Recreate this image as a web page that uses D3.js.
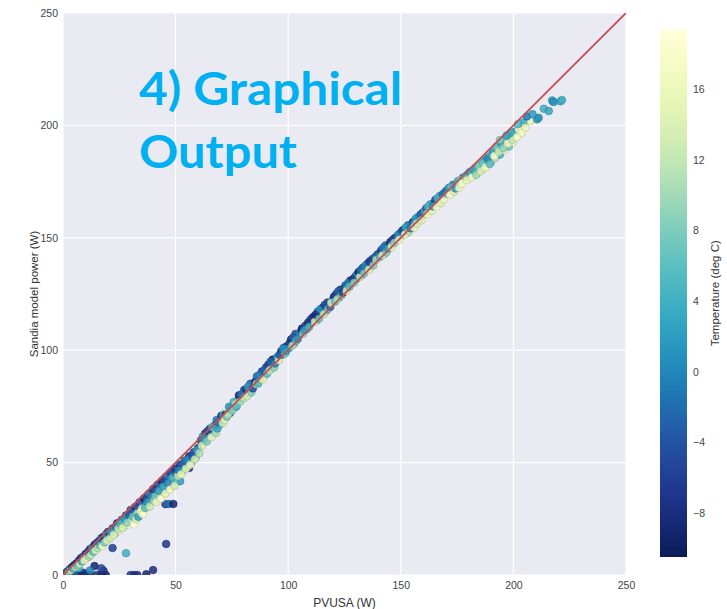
<!DOCTYPE html>
<html>
<head>
<meta charset="utf-8">
<script src="https://cdn.jsdelivr.net/npm/d3@7"></script>
<style>
  body { margin: 0; background: #fff; }
  svg { display: block; }
</style>
</head>
<body>
<div class="canvas"></div>
<script>
// margins and dimensions
const w = 727;
const h = 609;
const plot = { left: 63, right: 626, top: 13, bottom: 575 };
const bar = { left: 660, right: 687, top: 29.5, bottom: 557 };

// scatter data: PVUSA power (W), Sandia model power (W), temperature (deg C)
// rows of 10 are lined up across the three arrays
const pvusa = [
  1, 2, 4, 6, 8, 10, 12, 15, 17, 19,
  30, 31.5, 33, 37, 40, 18, 28, 45.5, 47, 49,
  45.8, 52, 56, 14, 22, 9, 12, 17, 5, 7,
  0.5, 1, 1.5, 2, 2.5, 3, 3.5, 4, 4.5, 5,
  5.5, 6, 6.5, 7, 7.5, 8, 8.5, 9, 9.5, 10,
  10.5, 11, 11.5, 12, 12.5, 13, 13.5, 14, 14.5, 15,
  15.5, 16, 16.5, 17, 17.5, 18, 18.5, 19, 19.5, 20,
  21, 22, 23, 24, 25, 26, 27, 28, 29, 30,
  21.5, 22.5, 23.5, 24.5, 25.5, 26.5, 27.5, 28.5, 29.5, 30.5,
  31, 32, 33, 34, 35, 36, 37, 38, 39, 40,
  31.5, 32.5, 33.5, 34.5, 35.5, 36.5, 37.5, 38.5, 39.5, 40.5,
  41, 42, 43, 44, 45, 46, 47, 48, 49, 50,
  41.5, 42.5, 43.5, 44.5, 45.5, 46.5, 47.5, 48.5, 49.5, 50.5,
  51, 52, 53, 54, 55, 56, 57, 58, 59, 60,
  51.5, 52.5, 53.5, 54.5, 55.5, 56.5, 57.5, 58.5, 59.5, 60.5,
  61.2, 62.6, 63.1, 64.8, 65.3, 66.9, 67.4, 68.2, 69.7, 70.3,
  61.7, 62.1, 63.8, 64.2, 65.9, 66.3, 67.9, 68.6, 69.1, 70.9,
  71.4, 72.2, 73.7, 74.1, 75.8, 76.3, 77.6, 78.1, 79.9, 80.4,
  71.9, 72.8, 73.3, 74.6, 75.2, 76.8, 77.1, 78.7, 79.3, 80.8,
  81.3, 82.7, 83.2, 84.9, 85.4, 86.1, 87.6, 88.3, 89.8, 90.2,
  81.8, 82.1, 83.7, 84.3, 85.9, 86.7, 87.2, 88.8, 89.3, 90.7,
  91.2, 92.6, 93.1, 94.8, 95.3, 96.9, 97.4, 98.2, 99.7, 100.3,
  91.7, 92.2, 93.8, 94.2, 95.8, 96.2, 97.8, 98.7, 99.1, 100.8,
  101.3, 102.7, 103.2, 104.9, 105.4, 106.1, 107.6, 108.3, 109.8, 110.2,
  101.8, 102.2, 103.7, 104.3, 105.9, 106.6, 107.2, 108.8, 109.3, 110.7,
  111.3, 112.6, 113.1, 114.8, 115.3, 116.9, 117.4, 118.2, 119.7, 120.3,
  111.8, 112.2, 113.7, 114.2, 115.8, 116.2, 117.8, 118.7, 119.1, 120.8,
  121.3, 122.7, 123.2, 124.9, 125.4, 126.1, 127.6, 128.3, 129.8, 130.2,
  121.8, 122.2, 123.7, 124.3, 125.9, 126.6, 127.2, 128.8, 129.3, 130.7,
  131.3, 132.6, 133.1, 134.8, 135.3, 136.9, 137.4, 138.2, 139.7, 140.3,
  131.8, 132.2, 133.7, 134.2, 135.8, 136.2, 137.8, 138.7, 139.1, 140.8,
  141.3, 142.7, 143.2, 144.9, 145.4, 146.1, 147.6, 148.3, 149.8, 150.2,
  141.8, 142.2, 143.7, 144.3, 145.9, 146.6, 147.2, 148.8, 149.3, 150.7,
  151.3, 152.7, 153.2, 154.9, 155.4, 156.1, 157.6, 158.3, 159.8, 160.2,
  151.8, 152.2, 153.7, 154.3, 155.9, 156.6, 157.2, 158.8, 159.3, 160.7,
  161.3, 162.6, 163.1, 164.8, 165.3, 166.9, 167.4, 168.2, 169.7, 170.3,
  161.8, 162.2, 163.7, 164.2, 165.8, 166.2, 167.8, 168.7, 169.1, 170.8,
  171.3, 172.7, 173.2, 174.9, 175.4, 176.1, 177.6, 178.3, 179.8, 180.2,
  171.8, 172.2, 173.7, 174.3, 175.9, 176.6, 177.2, 178.8, 179.3, 180.7,
  181, 182, 183, 184, 185, 186, 187, 188, 189, 190,
  181.5, 182.5, 183.5, 184.5, 185.5, 186.5, 187.5, 188.5, 189.5, 190.5,
  191, 192, 193, 194, 195, 196, 197, 198, 199, 200,
  191.5, 192.5, 193.5, 194.5, 195.5, 196.5, 197.5, 198.5, 199.5, 200.5,
  202.4, 204.6, 205.3, 207.6, 210.5, 211.2, 213.5, 215.7, 217.2, 220.9,
  217.8, 221.6, 202, 203.5, 206, 208.5, 199, 197, 194, 201.5
];

const sandia = [
  0, 0, 0, 0, 0, 0, 0, 0, 0, 0,
  0, 0, 0, 0.3, 2.2, 1.9, 9.7, 31.5, 31.6, 31.6,
  13.8, 41.7, 47.6, 4, 12, 1, 2, 3, 0.5, 3,
  0.3, 0.8, 1.0, 1.6, 1.5, 2.6, 2.2, 3.5, 2.9, 4.4,
  3.6, 5.2, 4.3, 6.4, 5.1, 7.5, 6.0, 8.2, 6.6, 9.3,
  7.4, 10.2, 8.1, 11.5, 9.0, 12.2, 10.3, 13.4, 11.0, 14.3,
  12.0, 15.1, 13.2, 16.4, 12.8, 17.0, 14.5, 18.1, 15.3, 19.2,
  16.5, 20.8, 18.3, 23.0, 19.8, 24.6, 21.5, 26.5, 22.4, 28.9,
  19.0, 17.8, 21.7, 20.6, 22.8, 21.0, 25.2, 23.3, 26.8, 24.4,
  26.0, 30.2, 27.5, 32.3, 29.6, 34.1, 30.8, 36.0, 32.8, 38.2,
  22.5, 24.8, 25.9, 28.2, 27.0, 29.8, 32.5, 30.4, 34.9, 33.0,
  35.0, 40.1, 36.8, 41.9, 38.3, 43.8, 40.2, 45.6, 41.8, 47.3,
  32.4, 37.5, 34.0, 39.3, 36.2, 41.0, 38.0, 43.3, 39.6, 45.0,
  44.0, 49.0, 46.2, 50.9, 47.8, 52.8, 50.0, 54.6, 52.2, 56.5,
  46.6, 44.8, 49.4, 47.2, 51.3, 49.0, 53.0, 51.4, 55.5, 54.2,
  59.8, 60.1, 62.9, 61.0, 65.2, 63.4, 66.5, 68.9, 67.0, 70.8,
  57.5, 61.6, 59.4, 64.0, 61.3, 65.8, 63.1, 65.2, 67.9, 67.5,
  71.5, 71.2, 74.8, 72.0, 76.9, 74.6, 77.8, 79.9, 78.7, 82.3,
  69.1, 70.4, 71.6, 74.0, 73.2, 75.9, 75.0, 77.2, 80.4, 78.9,
  82.6, 80.8, 85.1, 84.5, 86.0, 88.4, 87.2, 90.5, 89.1, 92.4,
  79.5, 83.7, 81.3, 83.0, 84.9, 85.2, 89.0, 86.9, 91.0, 89.6,
  93.6, 91.9, 95.8, 96.4, 97.2, 99.5, 97.9, 101.2, 102.0, 100.9,
  91.0, 94.9, 92.3, 94.1, 95.5, 97.9, 100.7, 98.6, 99.6, 103.4,
  104.8, 103.1, 107.2, 106.9, 108.1, 109.6, 110.9, 109.3, 113.5, 112.0,
  102.0, 105.6, 104.4, 105.1, 108.6, 107.3, 108.9, 112.2, 110.4, 114.4,
  114.9, 113.2, 117.1, 116.8, 118.9, 117.6, 121.2, 120.7, 122.4, 123.8,
  112.6, 115.8, 114.0, 118.2, 116.0, 120.1, 118.4, 119.3, 121.0, 121.6,
  125.0, 123.4, 126.9, 127.5, 128.8, 127.6, 131.0, 130.3, 132.9, 131.6,
  122.6, 126.2, 124.4, 125.6, 126.3, 129.9, 128.2, 131.6, 130.0, 133.9,
  134.8, 133.3, 136.6, 136.9, 138.6, 137.5, 140.6, 139.8, 142.6, 142.9,
  132.6, 135.6, 134.2, 137.6, 135.8, 139.5, 137.7, 141.5, 140.2, 141.6,
  144.4, 142.8, 146.6, 146.9, 148.2, 147.0, 150.1, 149.6, 152.2, 151.0,
  142.3, 145.5, 143.6, 145.2, 145.8, 149.3, 147.8, 151.3, 149.1, 153.2,
  153.6, 152.1, 155.6, 156.1, 157.0, 156.2, 159.2, 158.4, 161.2, 160.4,
  151.4, 154.6, 152.8, 154.2, 154.6, 158.5, 156.3, 160.4, 157.8, 162.0,
  163.1, 161.8, 164.9, 165.3, 166.8, 165.4, 168.7, 167.9, 170.3, 171.0,
  160.4, 163.9, 162.0, 164.0, 163.8, 167.6, 165.4, 169.4, 167.1, 169.5,
  172.2, 170.1, 173.6, 174.0, 175.3, 173.6, 176.8, 176.4, 178.4, 177.1,
  169.2, 172.4, 170.6, 171.9, 172.2, 175.8, 174.1, 177.5, 175.6, 179.2,
  179.5, 177.4, 181.0, 179.0, 182.6, 180.4, 184.3, 182.0, 186.0, 183.6,
  176.8, 180.2, 178.0, 181.8, 179.6, 183.3, 181.2, 185.1, 182.8, 186.9,
  188.2, 185.5, 189.8, 187.0, 191.5, 189.0, 193.2, 190.6, 195.0, 192.6,
  186.4, 190.6, 188.3, 192.3, 190.0, 194.0, 192.0, 196.0, 193.6, 197.2,
  198.2, 201.2, 199.0, 202.0, 202.7, 203.4, 207.4, 206.4, 211.1, 210.7,
  210.4, 211.3, 200.5, 196.5, 204.0, 205.0, 196.8, 195.5, 193.5, 194.8
];

const tempC = [
  -10.5, -8, -9.5, -7, -8, -6, -9, -7, -8, -9,
  -6, -7, -8, -9, -8, -8, 4, -6, -2, -9,
  -7, 2, -8, -9, -6, -8, 0, -5, -3, 4,
  -9, -6, 3, -8, 10, -4, 14, -7, 6, -9,
  12, -8, 8, -5, 15, -9, 4, -3, 17, -7,
  16, -6, 9, -8, 13, 2, 6, -9, 15, -4,
  11, -7, 5, -2, 17, -9, 8, 1, 14, -6,
  13, -4, 7, -8, 16, 0, 10, -9, 18, -5,
  3, 15, -1, 12, 5, 14, 2, 9, -3, 11,
  6, -7, 9, -5, 12, -9, 4, -3, 15, -8,
  19.4, 14, 2, 16, 18, 6, 1, 13, 0, 10,
  7, -6, 11, -9, 5, -4, 14, -7, 8, -8,
  16, 2, 18, 3, 15, 0, 17, 4, 13, -1,
  12, -7, 6, -3, 10, -8, 4, -5, 9, -6,
  0, 16, -2, 14, 1, 17, -4, 13, 2, 11,
  -6, 3, -8, 5, -4, 2, -9, -1, 4, -7,
  14, 1, 8, -5, 16, 6, 11, 3, -2, 13,
  5, -8, 2, -3, 4, -6, 6, -9, 1, -4,
  15, 7, 12, 3, 9, 16, 5, 10, -1, 14,
  -7, 6, -3, 1, -8, -2, 4, -6, 3, -5,
  13, 2, 9, -4, 12, 5, 0, 15, -3, 7,
  -6, 7, -9, -2, 3, -8, 5, -4, -7, 4,
  12, -3, 9, 0, 14, -4, 1, 8, 2, -6,
  -8, 4, -5, -1, 3, -9, -6, 6, -3, 2,
  10, -3, 7, 1, -7, 9, 2, -8, 5, -5,
  -7, 5, -4, 0, -9, 3, -6, -1, 4, -8,
  13, -8, 7, 1, 12, -5, 8, -3, 14, 6,
  -6, 6, -9, -2, -4, 2, -8, 3, -2, 5,
  11, -3, 8, -6, 14, -1, 6, -7, 9, 0,
  -9, 4, -5, -2, -7, 3, -4, 1, -8, -1,
  12, -2, 8, 0, 14, -6, 9, -3, 11, 5,
  -7, 6, -3, -5, -8, 4, -5, 2, -1, 3,
  13, -1, 9, 2, 15, -6, 10, 0, 16, -4,
  -5, 8, -2, 3, -7, 5, 1, -3, -4, 7,
  16, 3, 12, -1, 17, 2, 14, -3, 15, 4,
  -3, 10, 3, -2, -6, 9, 2, 4, 0, -1,
  17, 5, 16, 1, 18, 4, 15, -2, 17, 6,
  2, 14, -1, 4, 4, 12, 0, 6, 3, 13,
  18, 6, 15, 1, 17, 8, 18, 5, 16, 2,
  4, 9, 1, 12, 6, 3, 2, 16, 5, 8,
  18, 3, 10, 8, 15, 7, 17, 0, 6, 4,
  2, 11, 5, 4, 3, 15, 1, 7, 6, 16,
  18, 7, 13, 2, 9, 6, 17, 4, 12, 3,
  17, 3, 16, 15, 2, 1, 4, 3, 2, 3,
  1, 4, 5, 17, -1, 2, 4, 3, 8, 18
];

// tick values
const xTicks = [0, 50, 100, 150, 200, 250];
const yTicks = [0, 50, 100, 150, 200, 250];
const cbTicks = [-8, -4, 0, 4, 8, 12, 16];

// labels
const xLabel = "PVUSA (W)";
const yLabel = "Sandia model power (W)";
const cbLabel = "Temperature (deg C)";
const overlay = ["4) Graphical", "Output"];

const points = pvusa.map((d, i) => ({ x: d, y: sandia[i], t: tempC[i] }));

const svg = d3.select(".canvas").append("svg").attr("width", w).attr("height", h);

const xScale = d3.scaleLinear().domain([0, 250]).range([plot.left, plot.right]);
const yScale = d3.scaleLinear().domain([0, 250]).range([plot.bottom, plot.top]);
const tExtent = d3.extent(tempC);
const color = d3.scaleSequential((t) => d3.interpolateYlGnBu(1 - t)).domain(tExtent);

// plot background
svg.append("rect")
  .attr("x", plot.left).attr("y", plot.top)
  .attr("width", plot.right - plot.left).attr("height", plot.bottom - plot.top)
  .attr("fill", "#EAEAF2");

svg.append("clipPath").attr("id", "clip")
  .append("rect")
  .attr("x", plot.left).attr("y", plot.top)
  .attr("width", plot.right - plot.left).attr("height", plot.bottom - plot.top);

// grid
const grid = svg.append("g");
grid.selectAll(".gx").data(xTicks).join("line")
  .attr("x1", (d) => xScale(d)).attr("x2", (d) => xScale(d))
  .attr("y1", plot.top).attr("y2", plot.bottom)
  .attr("stroke", "#fff").attr("stroke-width", 1.2);
grid.selectAll(".gy").data(yTicks).join("line")
  .attr("y1", (d) => yScale(d)).attr("y2", (d) => yScale(d))
  .attr("x1", plot.left).attr("x2", plot.right)
  .attr("stroke", "#fff").attr("stroke-width", 1.2);

// axes (labels only, no domain or tick marks)
const xAxis = svg.append("g")
  .attr("transform", `translate(0, ${plot.bottom + 4})`)
  .call(d3.axisBottom(xScale).tickValues(xTicks).tickSize(0).tickPadding(3));
const yAxis = svg.append("g")
  .attr("transform", `translate(${plot.left - 5}, 0)`)
  .call(d3.axisLeft(yScale).tickValues(yTicks).tickSize(0).tickPadding(0));
[xAxis, yAxis].forEach((a) => {
  a.select(".domain").remove();
  a.selectAll("text")
    .attr("fill", "#444")
    .style("font-family", "'Liberation Sans', Arial, sans-serif")
    .style("font-size", "10.5px");
});

// scatter
svg.append("g").attr("clip-path", "url(#clip)")
  .selectAll("circle").data(points).join("circle")
  .attr("cx", (d) => xScale(d.x))
  .attr("cy", (d) => yScale(d.y))
  .attr("r", 3.8)
  .attr("fill", (d) => color(d.t))
  .attr("fill-opacity", 0.85)
  .attr("stroke", (d) => d3.color(color(d.t)).darker(0.7))
  .attr("stroke-width", 0.6);

// 1:1 line
svg.append("line").attr("clip-path", "url(#clip)")
  .attr("x1", xScale(0)).attr("y1", yScale(0))
  .attr("x2", xScale(250)).attr("y2", yScale(250))
  .attr("stroke", "#C44E52").attr("stroke-width", 1.8);

// axis titles
svg.append("text")
  .attr("x", (plot.left + plot.right) / 2).attr("y", 607)
  .attr("text-anchor", "middle")
  .attr("fill", "#333")
  .style("font-family", "'Liberation Sans', Arial, sans-serif")
  .style("font-size", "12px")
  .text(xLabel);
svg.append("text")
  .attr("transform", `translate(38, ${(plot.top + plot.bottom) / 2}) rotate(-90)`)
  .attr("text-anchor", "middle")
  .attr("fill", "#333")
  .style("font-family", "'Liberation Sans', Arial, sans-serif")
  .style("font-size", "11.5px")
  .text(yLabel);

// colorbar
const cbScale = d3.scaleLinear().domain(tExtent).range([bar.bottom, bar.top]);
const grad = svg.append("defs").append("linearGradient")
  .attr("id", "cbgrad").attr("x1", 0).attr("y1", 1).attr("x2", 0).attr("y2", 0);
d3.range(0, 1.0001, 0.05).forEach((s) => {
  grad.append("stop")
    .attr("offset", s)
    .attr("stop-color", color(tExtent[0] + s * (tExtent[1] - tExtent[0])));
});
svg.append("rect")
  .attr("x", bar.left).attr("y", bar.top)
  .attr("width", bar.right - bar.left).attr("height", bar.bottom - bar.top)
  .attr("fill", "url(#cbgrad)");

const cbAxis = svg.append("g")
  .attr("transform", `translate(${bar.right + 6}, 0)`)
  .call(d3.axisRight(cbScale).tickValues(cbTicks).tickSize(0).tickPadding(0)
    .tickFormat((d) => (d < 0 ? "\u2212" + Math.abs(d) : d)));
cbAxis.select(".domain").remove();
cbAxis.selectAll("text")
  .attr("fill", "#444")
  .style("font-family", "'Liberation Sans', Arial, sans-serif")
  .style("font-size", "10.5px");

svg.append("text")
  .attr("transform", `translate(719, ${(bar.top + bar.bottom) / 2}) rotate(-90)`)
  .attr("text-anchor", "middle")
  .attr("fill", "#333")
  .style("font-family", "'Liberation Sans', Arial, sans-serif")
  .style("font-size", "11.5px")
  .text(cbLabel);

// overlay heading
svg.append("text")
  .attr("x", 139).attr("y", 105)
  .attr("fill", "#00B0F0")
  .attr("textLength", 263).attr("lengthAdjust", "spacingAndGlyphs")
  .style("font-family", "Lato, 'Open Sans', sans-serif")
  .style("font-weight", "bold")
  .style("font-size", "46px")
  .text(overlay[0]);
svg.append("text")
  .attr("x", 139).attr("y", 168)
  .attr("fill", "#00B0F0")
  .attr("textLength", 158).attr("lengthAdjust", "spacingAndGlyphs")
  .style("font-family", "Lato, 'Open Sans', sans-serif")
  .style("font-weight", "bold")
  .style("font-size", "46px")
  .text(overlay[1]);
</script>
</body>
</html>
